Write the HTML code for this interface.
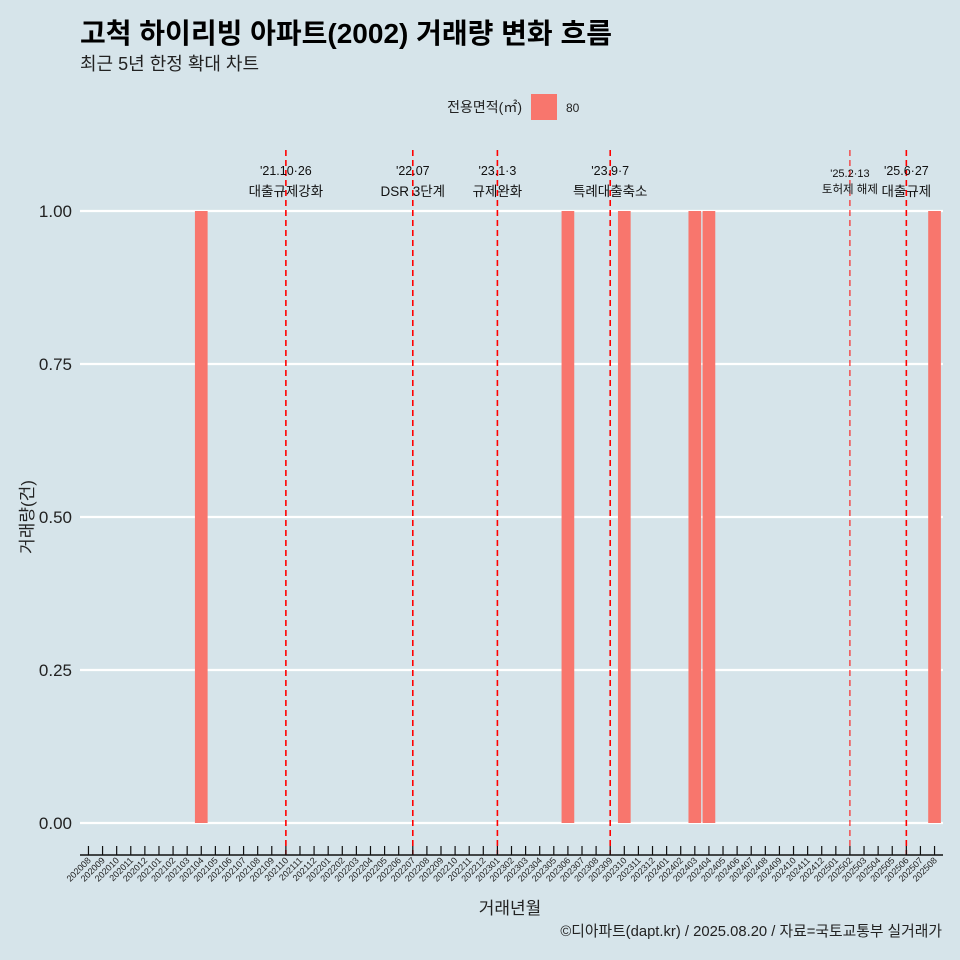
<!DOCTYPE html>
<html><head><meta charset="utf-8"><style>
body{margin:0;background:#d6e4ea;}
svg{display:block;font-family:"Liberation Sans","Noto Sans CJK KR",sans-serif;}
</style></head><body>
<svg id="c" width="960" height="960" viewBox="0 0 960 960">
<rect width="960" height="960" fill="#d6e4ea"/>
<text x="80" y="43" font-size="28" font-weight="bold" fill="#000">고척 하이리빙 아파트(2002) 거래량 변화 흐름</text>
<text x="80" y="70" font-size="18" fill="#222">최근 5년 한정 확대 차트</text>
<g>
<text x="522" y="112" font-size="14" text-anchor="end" fill="#222">전용면적(㎡)</text>
<rect x="531" y="94" width="26" height="26" fill="#f8766d"/>
<text x="566" y="112" font-size="12" fill="#222">80</text>
</g>
<g id="grid"></g><g id="bars"></g><g id="vlines"></g><g id="xaxis"></g><g id="yaxis"></g>
<text x="510" y="914" font-size="17" text-anchor="middle" fill="#222">거래년월</text>
<text transform="translate(33,517) rotate(-90)" font-size="17" text-anchor="middle" fill="#222">거래량(건)</text>
<text x="942" y="936" font-size="14.8" text-anchor="end" fill="#222">©디아파트(dapt.kr) / 2025.08.20 / 자료=국토교통부 실거래가</text>
</svg>
<script>
const months=[];for(let y=2020;y<=2025;y++)for(let m=1;m<=12;m++){const k=y*100+m;if(k>=202008&&k<=202508)months.push(String(k));}
const barMonths=["202104","202306","202310","202403","202404","202508"];
const barValues=[1,1,1,1,1,1];
const yTicks=[0,0.25,0.5,0.75,1];
const yTickLabels=["0.00","0.25","0.50","0.75","1.00"];
const eventMonths=["202110","202207","202301","202309","202502","202506"];
const eventDates=["'21.10·26","'22.07","'23.1·3","'23.9·7","'25.2·13","'25.6·27"];
const eventTexts=["대출규제강화","DSR 3단계","규제완화","특례대출축소","토허제 해제","대출규제"];
const NS="http://www.w3.org/2000/svg";
const x0=80,x1=943,y0=823,y1=211;
const step=(x1-x0)/(months.length-1+1.2);
const xs=k=>x0+(months.indexOf(k)+0.6)*step;
const ys=v=>y0+(y1-y0)*v;
function el(t,a,p){const e=document.createElementNS(NS,t);for(const k in a)e.setAttribute(k,a[k]);document.getElementById(p).appendChild(e);return e;}
yTicks.forEach((v,i)=>{
 const l=el('line',{x1:x0,x2:x1,y1:ys(v),y2:ys(v),stroke:'#fff','stroke-width':2.2},'grid');
 
 
 const t=el('text',{x:72,y:ys(v)+6,'font-size':17,'text-anchor':'end',fill:'#222'},'yaxis');
 t.textContent=yTickLabels[i];
 
 
});
barMonths.forEach((k,i)=>{
 const w=step*0.9;
 const r=el('rect',{x:xs(k)-w/2,y:ys(barValues[i]),width:w,height:ys(0)-ys(barValues[i]),fill:'#f8766d'},'bars');
 
 
});
eventMonths.forEach((k,i)=>{
 const x=xs(k);
 const l=el('line',{x1:x,x2:x,y1:150,y2:855,stroke:'#ff0000','stroke-width':k==="202502"?1:1.6,'stroke-dasharray':'6,4'},'vlines');
 
 
 const small=k==="202502";
 const t1=el('text',{x:x,y:small?177:175,'font-size':small?11:12.5,'text-anchor':'middle',fill:'#111'},'vlines');
 t1.textContent=eventDates[i];
 
 
 const t2=el('text',{x:x,y:small?193:196,'font-size':small?11.5:13.5,'text-anchor':'middle',fill:'#111'},'vlines');
 t2.textContent=eventTexts[i];
 
 
});
const ax=el('line',{x1:x0,x2:x1,y1:855,y2:855,stroke:'#111','stroke-width':1.5},'xaxis');


months.forEach(k=>{
 const x=xs(k);
 const tk=el('line',{x1:x,x2:x,y1:846,y2:855,stroke:'#111','stroke-width':1.2},'xaxis');
 
 
 const t=el('text',{transform:`translate(${x+3},${861}) rotate(-45)`,'font-size':9,'text-anchor':'end',fill:'#222'},'xaxis');
 t.textContent=k;
 
 
});
</script>
</body></html>
